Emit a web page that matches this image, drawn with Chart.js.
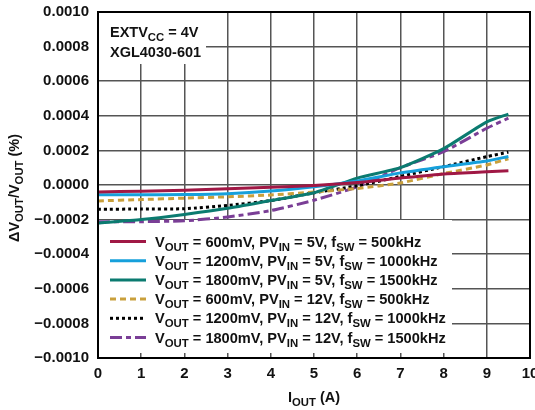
<!DOCTYPE html>
<html>
<head>
<meta charset="utf-8">
<script src="https://cdn.jsdelivr.net/npm/chart.js@4.4.1/dist/chart.umd.min.js"></script>
<style>
  html, body { margin: 0; padding: 0; background: #fff; }
  #wrap { width: 535px; height: 410px; }
</style>
</head>
<body>
<div id="wrap"><canvas id="chart-ripple" width="535" height="410"></canvas></div>
<script>
// load current in A
const iout = [0, 1, 2, 3, 4, 5, 6, 7, 8, 9, 9.5];

// dVout/Vout (%)
const vo600pv5 = [-0.00004, -0.000036, -0.00003, -0.000022, -0.000013, -0.000003, 0.000014, 0.00004, 0.000064, 0.000076, 0.000083];
const vo1200pv5 = [-0.000056, -0.000056, -0.000055, -0.00005, -0.000035, -0.00001, 0.000023, 0.00007, 0.000106, 0.000139, 0.000165];
const vo1800pv5 = [-0.00022, -0.0002, -0.00017, -0.000135, -0.00009, -0.000045, 0.00004, 0.0001, 0.00021, 0.000365, 0.00041];
const vo600pv12 = [-0.000092, -0.000084, -0.000076, -0.000068, -0.000058, -0.00004, -0.00002, 0.000012, 0.000066, 0.000116, 0.000152];
const vo1200pv12 = [-0.00014, -0.000139, -0.000137, -0.000118, -0.00009, -0.000045, -0.000005, 0.00005, 0.000106, 0.000164, 0.00019];
const vo1800pv12 = [-0.000212, -0.000212, -0.000207, -0.000185, -0.000148, -0.000088, -0.00001, 0.0001, 0.000193, 0.000328, 0.000386];

const seriesLabels = [
    "V_{OUT} = 600mV, PV_{IN} = 5V, f_{SW} = 500kHz",
    "V_{OUT} = 1200mV, PV_{IN} = 5V, f_{SW} = 1000kHz",
    "V_{OUT} = 1800mV, PV_{IN} = 5V, f_{SW} = 1500kHz",
    "V_{OUT} = 600mV, PV_{IN} = 12V, f_{SW} = 500kHz",
    "V_{OUT} = 1200mV, PV_{IN} = 12V, f_{SW} = 1000kHz",
    "V_{OUT} = 1800mV, PV_{IN} = 12V, f_{SW} = 1500kHz"
];
const noteLines = ["EXTV_{CC} = 4V", "XGL4030-601"];
const xTitle = "I_{OUT} (A)";
const yTitle = "\u0394V_{OUT}/V_{OUT} (%)";

const FONT = "'Liberation Sans', Arial, sans-serif";

function parseRich(str) {
    const parts = [];
    const re = /_\{([^}]*)\}/g;
    let last = 0, m;
    while ((m = re.exec(str)) !== null) {
        if (m.index > last) parts.push([str.slice(last, m.index), false]);
        parts.push([m[1], true]);
        last = re.lastIndex;
    }
    if (last < str.length) parts.push([str.slice(last), false]);
    return parts;
}

function richWidth(ctx, parts, size) {
    let w = 0;
    parts.forEach(([t, sub]) => {
        ctx.font = "bold " + (sub ? size * 0.78 : size) + "px " + FONT;
        w += ctx.measureText(t).width;
    });
    return w;
}

function drawRich(ctx, str, x, y, size) {
    const parts = parseRich(str);
    ctx.textBaseline = "alphabetic";
    ctx.textAlign = "left";
    parts.forEach(([t, sub]) => {
        ctx.font = "bold " + (sub ? size * 0.78 : size) + "px " + FONT;
        ctx.fillText(t, x, sub ? y + 4 : y);
        x += ctx.measureText(t).width;
    });
}

const overlay = {
    id: "overlay",
    beforeDatasetsDraw(chart) {
        const ctx = chart.ctx, a = chart.chartArea;
        ctx.save();
        ctx.fillStyle = "#fff";
        ctx.fillRect(a.left + 1, a.top + 1, 107, 51);
        ctx.fillRect(a.left + 1, 220, 353, 133);
        ctx.restore();
    },
    afterDatasetsDraw(chart) {
        const ctx = chart.ctx, a = chart.chartArea;
        ctx.save();
        ctx.fillStyle = "#111";
        drawRich(ctx, noteLines[0], a.left + 12, a.top + 25, 14.5);
        drawRich(ctx, noteLines[1], a.left + 12, a.top + 45, 14.5);

        chart.data.datasets.forEach((ds, i) => {
            const y = 241.5 + i * 19.2;
            ctx.beginPath();
            ctx.strokeStyle = ds.borderColor;
            ctx.lineWidth = 3;
            ctx.setLineDash(ds.borderDash || []);
            ctx.moveTo(a.left + 12, y);
            ctx.lineTo(a.left + 48, y);
            ctx.stroke();
            ctx.setLineDash([]);
            ctx.fillStyle = "#111";
            drawRich(ctx, seriesLabels[i], a.left + 57, y + 5, 14.6);
        });

        ctx.strokeStyle = "#000";
        ctx.lineWidth = 2;
        ctx.strokeRect(a.left, a.top, a.right - a.left, a.bottom - a.top);
        ctx.restore();
    },
    afterDraw(chart) {
        const ctx = chart.ctx, a = chart.chartArea;
        ctx.save();
        ctx.fillStyle = "#111";
        const xw = richWidth(ctx, parseRich(xTitle), 14.5);
        drawRich(ctx, xTitle, (a.left + a.right) / 2 - xw / 2, 402, 14.5);

        ctx.translate(19, (a.top + a.bottom) / 2 + 3);
        ctx.rotate(-Math.PI / 2);
        const yw = richWidth(ctx, parseRich(yTitle), 14.5);
        drawRich(ctx, yTitle, -yw / 2, 0, 14.5);
        ctx.restore();
    }
};

function pts(vals) {
    return vals.map((v, i) => ({ x: iout[i], y: v }));
}

new Chart(document.getElementById("chart-ripple"), {
    type: "line",
    data: {
        datasets: [
            { label: seriesLabels[0], data: pts(vo600pv5), borderColor: "#a01845" },
            { label: seriesLabels[1], data: pts(vo1200pv5), borderColor: "#16a0db" },
            { label: seriesLabels[2], data: pts(vo1800pv5), borderColor: "#0b7b70" },
            { label: seriesLabels[3], data: pts(vo600pv12), borderColor: "#c9a03c", borderDash: [6, 4] },
            { label: seriesLabels[4], data: pts(vo1200pv12), borderColor: "#000000", borderDash: [3, 3] },
            { label: seriesLabels[5], data: pts(vo1800pv12), borderColor: "#7a3e96", borderDash: [12, 4, 5, 4] }
        ]
    },
    options: {
        responsive: false,
        animation: false,
        devicePixelRatio: 1,
        layout: { padding: { top: 12, right: 5, left: 0, bottom: 0 } },
        elements: {
            point: { radius: 0 },
            line: { borderWidth: 3, tension: 0.2, fill: false }
        },
        plugins: {
            legend: { display: false },
            tooltip: { enabled: false }
        },
        scales: {
            x: {
                type: "linear",
                min: 0,
                max: 10,
                ticks: {
                    stepSize: 1,
                    padding: 7,
                    color: "#111",
                    font: { family: FONT, size: 15, weight: "bold" }
                },
                grid: { color: "#555", lineWidth: 1.5, drawTicks: false },
                border: { color: "#000", width: 2 },
                afterFit(scale) {
                    scale.height = 52;
                    scale.paddingLeft = 0;
                    scale.paddingRight = 0;
                }
            },
            y: {
                min: -0.001,
                max: 0.001,
                ticks: {
                    stepSize: 0.0002,
                    padding: 9,
                    color: "#111",
                    font: { family: FONT, size: 15, weight: "bold" },
                    callback(v) {
                        if (Math.abs(v) < 1e-9) return "0.0000";
                        return (v < 0 ? "\u2212" : "") + Math.abs(v).toFixed(4);
                    }
                },
                grid: { color: "#555", lineWidth: 1.5, drawTicks: false },
                border: { color: "#000", width: 2 },
                afterFit(scale) {
                    scale.width = 98;
                    scale.paddingTop = 0;
                    scale.paddingBottom = 0;
                }
            }
        }
    },
    plugins: [overlay]
});
</script>
</body>
</html>
